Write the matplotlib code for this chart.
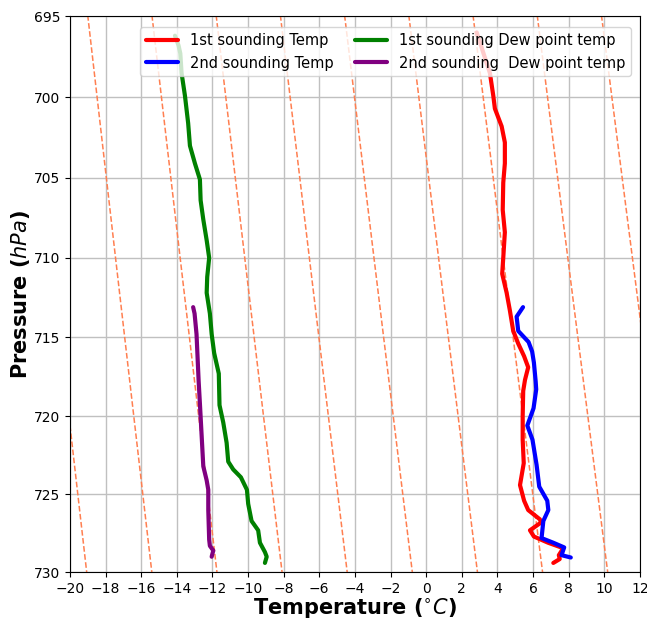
import numpy as np
from matplotlib import pyplot as plt
from matplotlib.ticker import FixedLocator, ScalarFormatter, NullLocator

# sondeos: presion (hPa) y temperatura (C)
p_temp1 = [696.0, 698.5, 699.9, 700.7, 701.8, 702.8, 704.1, 705.3, 707.0, 708.4,
           710.0, 711.0, 712.2, 713.3, 714.6, 715.4, 716.2, 716.9, 717.7, 718.4,
           720.0, 721.5, 723.0, 724.4, 725.4, 726.0, 726.6, 726.8, 727.3, 727.7,
           728.1, 728.45, 728.9, 729.15, 729.4]
t_temp1 = [2.84, 3.58, 3.77, 3.86, 4.24, 4.42, 4.42, 4.33, 4.30, 4.42,
           4.33, 4.27, 4.52, 4.70, 4.89, 5.17, 5.50, 5.73, 5.55, 5.45,
           5.42, 5.42, 5.48, 5.27, 5.50, 5.73, 6.39, 6.45, 5.83, 6.05,
           6.85, 7.70, 7.45, 7.50, 7.14]

p_temp2 = [713.1, 713.7, 714.6, 715.3, 715.9, 716.6, 717.8, 718.3, 719.5, 720.6,
           721.5, 723.1, 724.5, 725.4, 726.0, 726.7, 727.8, 728.1, 728.4, 728.9, 729.05]
t_temp2 = [5.44, 5.08, 5.17, 5.75, 5.95, 6.05, 6.15, 6.18, 6.03, 5.68,
           5.97, 6.20, 6.35, 6.80, 6.86, 6.58, 6.48, 7.14, 7.75, 7.60, 8.12]

p_dew1 = [696.2, 696.8, 697.3, 698.5, 699.9, 701.6, 703.0, 704.1, 705.1, 706.4,
          707.6, 708.9, 710.0, 711.2, 712.2, 713.5, 714.8, 716.0, 717.3, 719.3,
          720.4, 721.7, 722.9, 723.4, 723.9, 724.7, 725.6, 726.7, 727.3, 728.1,
          728.7, 729.0, 729.4]
t_dew1 = [-14.1, -13.9, -13.8, -13.73, -13.54, -13.36, -13.26, -12.98, -12.7, -12.66,
          -12.51, -12.32, -12.18, -12.29, -12.32, -12.14, -12.04, -11.9, -11.64, -11.6,
          -11.39, -11.2, -11.11, -10.83, -10.4, -10.06, -9.99, -9.8, -9.43, -9.33,
          -9.05, -8.95, -9.05]

p_dew2 = [713.1, 713.5, 714.8, 717.8, 719.2, 721.3, 723.2, 724.1, 724.7, 726.0,
          727.9, 728.3, 728.6, 729.0]
t_dew2 = [-13.08, -13.0, -12.89, -12.77, -12.7, -12.6, -12.51, -12.32, -12.23, -12.23,
          -12.18, -12.14, -11.95, -12.04]

# adiabatas secas (temperatura potencial, K)
thetas = np.arange(270, 334, 4)
p_ticks = [695, 700, 705, 710, 715, 720, 725, 730]
t_ticks = np.arange(-20, 13, 2)

fig = plt.figure(figsize=(6.47, 6.22), dpi=100)
ax = fig.add_axes([0.108, 0.080, 0.881, 0.894])

# adiabatas secas
pp = np.linspace(690, 735, 100)
for th in thetas:
    tt = th * (pp / 1000.0) ** 0.2857 - 273.15
    ax.plot(tt, pp, '--', color='#ff7f50', lw=1.1, zorder=1)

kw = dict(lw=3, solid_joinstyle='round', solid_capstyle='round', zorder=3)
ax.plot(t_temp1, p_temp1, color='red', label='1st sounding Temp', **kw)
ax.plot(t_temp2, p_temp2, color='blue', label='2nd sounding Temp', **kw)
ax.plot(t_dew1, p_dew1, color='green', label='1st sounding Dew point temp', **kw)
ax.plot(t_dew2, p_dew2, color='purple', label='2nd sounding  Dew point temp', **kw)

ax.set_yscale('log')
ax.set_ylim(730, 695)
ax.set_xlim(-20, 12)
ax.yaxis.set_major_locator(FixedLocator(p_ticks))
ax.yaxis.set_major_formatter(ScalarFormatter())
ax.yaxis.set_minor_locator(NullLocator())
ax.set_xticks(t_ticks)
ax.tick_params(labelsize=10)
ax.grid(True, color='#c0c0c0', lw=1)
ax.set_axisbelow(True)

ax.set_xlabel('Temperature ($^{\\circ}C$)', fontsize=15, fontweight='bold', labelpad=0)
ax.set_ylabel('Pressure ($hPa$)', fontsize=15, fontweight='bold', labelpad=1)

ax.legend(loc='upper right', ncol=2, fontsize=10.5, handlelength=2.2,
          columnspacing=1.5, bbox_to_anchor=(0.99, 0.985), borderaxespad=0.2)

plt.savefig('out.png', dpi=100)
